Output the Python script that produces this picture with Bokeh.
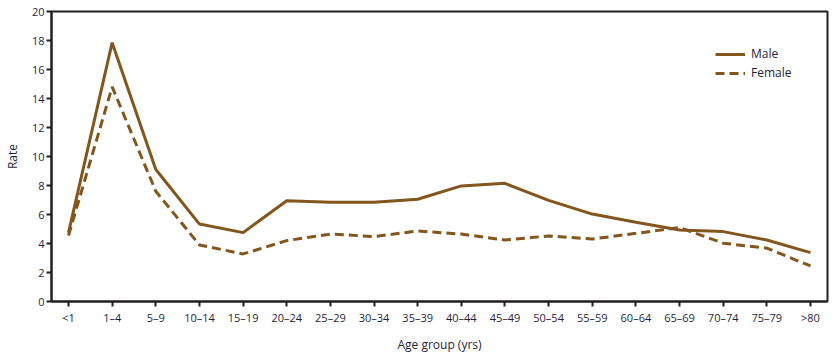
from bokeh.plotting import figure
from bokeh.models import Range1d, FixedTicker, Legend, LegendItem
from bokeh.embed import file_html
from bokeh.resources import INLINE

age_groups = ["<1", "1\u20134", "5\u20139", "10\u201314", "15\u201319", "20\u201324", "25\u201329",
              "30\u201334", "35\u201339", "40\u201344", "45\u201349", "50\u201354", "55\u201359",
              "60\u201364", "65\u201369", "70\u201374", "75\u201379", ">80"]
male = [4.75, 17.85, 9.1, 5.34, 4.75, 6.95, 6.85, 6.85, 7.05, 7.97, 8.15, 6.97, 6.03,
        5.47, 4.93, 4.82, 4.24, 3.37]
female = [4.55, 14.8, 7.6, 3.9, 3.28, 4.2, 4.65, 4.48, 4.86, 4.65, 4.24, 4.52, 4.31,
          4.7, 5.1, 4.02, 3.68, 2.45]
y_ticks = list(range(0, 21, 2))

COLOR = "#82561C"
TEXT = "#1f1f3a"
FONT = "Open Sans"

x = list(range(len(age_groups)))

p = figure(width=837, height=355, output_backend="svg", toolbar_location=None,
           x_range=Range1d(-0.39, 17.39), y_range=Range1d(0, 20),
           min_border_left=10, min_border_right=10, min_border_top=11, min_border_bottom=10)
p.xgrid.visible = False
p.ygrid.visible = False
p.outline_line_color = "#231f20"
p.outline_line_width = 2
p.outline_line_alpha = 1

r_m = p.line(x, male, line_color=COLOR, line_width=3)
r_f = p.line(x, female, line_color=COLOR, line_width=3, line_dash="9 5")

for ax in (p.xaxis[0], p.yaxis[0]):
    ax.axis_line_color = "#231f20"
    ax.axis_line_width = 2
    ax.major_tick_line_color = "#231f20"
    ax.major_tick_line_width = 2
    ax.major_tick_out = 5
    ax.major_tick_in = 0
    ax.minor_tick_line_color = None
    ax.major_label_text_font = FONT
    ax.major_label_text_font_size = "11px"
    ax.major_label_text_color = TEXT
    ax.axis_label_text_font = FONT
    ax.axis_label_text_font_size = "12px"
    ax.axis_label_text_font_style = "normal"
    ax.axis_label_text_color = TEXT

p.xaxis.ticker = FixedTicker(ticks=x)
p.xaxis.major_label_overrides = {i: lab for i, lab in enumerate(age_groups)}
p.xaxis.major_label_standoff = 3
p.xaxis.axis_label = "Age group (yrs)"
p.xaxis.axis_label_standoff = 8

p.yaxis.ticker = FixedTicker(ticks=y_ticks)
p.yaxis.major_label_standoff = 2
p.yaxis.axis_label = "Rate"
p.yaxis.axis_label_standoff = 8

legend = Legend(items=[LegendItem(label="Male", renderers=[r_m]),
                       LegendItem(label="Female", renderers=[r_f])],
                location=(664, 220), orientation="vertical")
legend.background_fill_alpha = 0
legend.border_line_color = None
legend.label_text_font = FONT
legend.label_text_font_size = "12px"
legend.label_text_color = TEXT
legend.glyph_width = 30
legend.glyph_height = 14
legend.label_standoff = 6
legend.spacing = 2
legend.padding = 4
legend.margin = 0
p.add_layout(legend, "center")

open("out.html", "w").write(file_html(p, INLINE))
